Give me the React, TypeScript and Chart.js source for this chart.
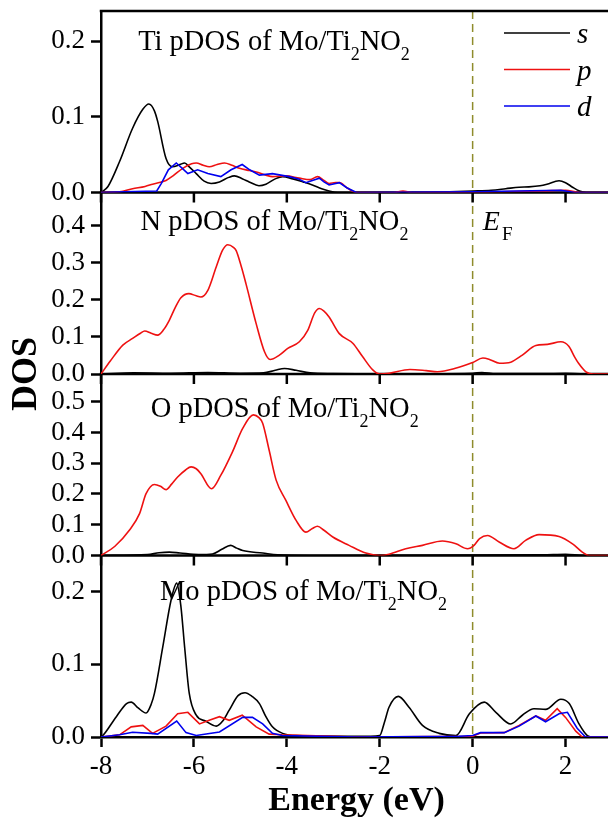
import { useEffect, useRef } from "react";
import { Chart, registerables } from "chart.js";

Chart.register(...registerables);

type Pt = [number, number];

// Energy axis (eV)
const energyMin = -8;
const energyMax = 3;
const energyStep = 2;

// Panel order, top to bottom
const panelAtoms = ["Ti", "N", "O", "Mo"];
const panelMax = [0.24, 0.49, 0.59, 0.25];
const dosStep = 0.1;

// Ti projected DOS
const tiS: Pt[] = [
  [-8, 0], [-7.85, 0.008], [-7.6, 0.041], [-7.32, 0.085], [-7.1, 0.11], [-6.97, 0.117], [-6.85, 0.108],
  [-6.78, 0.094], [-6.6, 0.045], [-6.46, 0.034], [-6.3, 0.037], [-6.2, 0.039], [-6.1, 0.034], [-5.95, 0.025],
  [-5.78, 0.015], [-5.63, 0.012], [-5.45, 0.014], [-5.25, 0.02], [-5.13, 0.022], [-4.95, 0.018], [-4.81, 0.014],
  [-4.6, 0.009], [-4.45, 0.011], [-4.25, 0.018], [-4.09, 0.021], [-3.87, 0.018], [-3.65, 0.014], [-3.45, 0.01],
  [-3.25, 0.005], [-3.09, 0.002], [-2.9, 0], [-1.0, 0], [-0.5, 0.001], [0, 0.002], [0.4, 0.003], [0.71, 0.005],
  [1.0, 0.007], [1.21, 0.0075], [1.45, 0.009], [1.6, 0.011], [1.86, 0.0155], [2.0, 0.013], [2.15, 0.007],
  [2.3, 0.002], [2.45, 0], [3, 0],
];
const tiP: Pt[] = [
  [-8, 0], [-7.6, 0.001], [-7.32, 0.005], [-7.05, 0.008], [-6.89, 0.011], [-6.6, 0.016], [-6.45, 0.022],
  [-6.24, 0.032], [-6.05, 0.038], [-5.95, 0.039], [-5.8, 0.036], [-5.67, 0.034], [-5.5, 0.037], [-5.34, 0.039],
  [-5.18, 0.036], [-5.02, 0.032], [-4.8, 0.029], [-4.66, 0.027], [-4.45, 0.023], [-4.31, 0.021], [-4.02, 0.022],
  [-3.73, 0.019], [-3.5, 0.017], [-3.34, 0.021], [-3.2, 0.016], [-3.09, 0.012], [-2.95, 0.013], [-2.87, 0.013],
  [-2.7, 0.006], [-2.5, 0], [-1.7, 0], [-1.5, 0.002], [-1.3, 0], [0.5, 0.001], [1.5, 0.002], [2.0, 0.003],
  [2.3, 0], [3, 0],
];
const tiD: Pt[] = [
  [-8, 0], [-7.5, 0.001], [-6.8, 0.002], [-6.7, 0.012], [-6.55, 0.03], [-6.38, 0.039], [-6.25, 0.032],
  [-6.13, 0.025], [-5.92, 0.03], [-5.7, 0.025], [-5.42, 0.021], [-5.2, 0.03], [-4.96, 0.037], [-4.8, 0.03],
  [-4.59, 0.023], [-4.31, 0.025], [-3.95, 0.021], [-3.75, 0.018], [-3.59, 0.013], [-3.45, 0.016], [-3.3, 0.019],
  [-3.2, 0.014], [-3.09, 0.01], [-2.87, 0.013], [-2.7, 0.006], [-2.5, 0], [0, 0.001], [1.9, 0.003], [2.2, 0],
  [3, 0],
];

// N projected DOS
const nS: Pt[] = [
  [-8, 0], [-7.3, 0.003], [-6.5, 0.002], [-5.7, 0.004], [-5.0, 0.002], [-4.5, 0.003], [-4.25, 0.01],
  [-4.05, 0.015], [-3.8, 0.01], [-3.5, 0.003], [-3.0, 0.001], [-2.0, 0], [0, 0.002], [0.2, 0.004], [0.5, 0.001],
  [1.5, 0.001], [2.0, 0.002], [2.4, 0], [3, 0],
];
const nP: Pt[] = [
  [-8, 0], [-7.8, 0.035], [-7.53, 0.078], [-7.32, 0.096], [-7.15, 0.11], [-7.06, 0.116], [-6.92, 0.11],
  [-6.78, 0.105], [-6.65, 0.12], [-6.53, 0.145], [-6.4, 0.18], [-6.28, 0.206], [-6.11, 0.217], [-5.95, 0.211],
  [-5.85, 0.208], [-5.7, 0.226], [-5.52, 0.289], [-5.38, 0.335], [-5.27, 0.349], [-5.15, 0.342], [-5.09, 0.333],
  [-4.98, 0.29], [-4.88, 0.244], [-4.66, 0.136], [-4.48, 0.06], [-4.36, 0.039], [-4.16, 0.051], [-3.98, 0.069],
  [-3.73, 0.087], [-3.55, 0.118], [-3.4, 0.165], [-3.3, 0.177], [-3.2, 0.17], [-3.09, 0.154], [-2.87, 0.109],
  [-2.58, 0.083], [-2.37, 0.047], [-2.15, 0.011], [-2.0, 0], [-1.8, 0.002], [-1.35, 0.012], [-1.0, 0.009],
  [-0.76, 0.006], [-0.35, 0.016], [0, 0.031], [0.22, 0.043], [0.35, 0.04], [0.58, 0.029], [0.82, 0.032],
  [1.07, 0.051], [1.36, 0.077], [1.61, 0.08], [1.9, 0.087], [2.07, 0.075], [2.2, 0.045], [2.28, 0.029],
  [2.44, 0.006], [2.6, 0], [3, 0],
];

// O projected DOS
const oS: Pt[] = [
  [-8, 0], [-7.0, 0.003], [-6.75, 0.009], [-6.53, 0.011], [-6.3, 0.008], [-5.9, 0.003], [-5.6, 0.005],
  [-5.4, 0.02], [-5.21, 0.033], [-5.08, 0.024], [-4.95, 0.016], [-4.52, 0.008], [-4.2, 0.002], [-3.5, 0],
  [1.5, 0.002], [2.0, 0.004], [2.4, 0], [3, 0],
];
const oP: Pt[] = [
  [-8, 0], [-7.7, 0.03], [-7.39, 0.082], [-7.17, 0.136], [-7.03, 0.201], [-6.85, 0.231], [-6.72, 0.225],
  [-6.6, 0.214], [-6.48, 0.232], [-6.35, 0.255], [-6.18, 0.278], [-6.06, 0.288], [-5.95, 0.282], [-5.85, 0.266],
  [-5.62, 0.217], [-5.42, 0.261], [-5.17, 0.337], [-4.95, 0.413], [-4.72, 0.457], [-4.6, 0.448], [-4.52, 0.43],
  [-4.38, 0.342], [-4.23, 0.245], [-4.02, 0.179], [-3.8, 0.114], [-3.59, 0.076], [-3.45, 0.088], [-3.34, 0.095],
  [-3.2, 0.082], [-3.01, 0.06], [-2.66, 0.033], [-2.3, 0.008], [-2.0, 0], [-1.8, 0.004], [-1.44, 0.022],
  [-1.08, 0.033], [-0.65, 0.047], [-0.36, 0.038], [-0.11, 0.022], [0.03, 0.033], [0.15, 0.055], [0.32, 0.065],
  [0.57, 0.044], [0.89, 0.022], [1.14, 0.049], [1.43, 0.068], [1.86, 0.062], [2.15, 0.038], [2.36, 0.011],
  [2.5, 0], [3, 0],
];

// Mo projected DOS
const moS: Pt[] = [
  [-8, 0], [-7.96, 0.002], [-7.67, 0.028], [-7.45, 0.046], [-7.35, 0.048], [-7.2, 0.04], [-7.03, 0.033],
  [-6.92, 0.045], [-6.85, 0.06], [-6.67, 0.124], [-6.49, 0.189], [-6.37, 0.212], [-6.28, 0.18], [-6.2, 0.124],
  [-6.1, 0.06], [-5.95, 0.03], [-5.75, 0.022], [-5.52, 0.015], [-5.38, 0.022], [-5.24, 0.037], [-5.05, 0.057],
  [-4.9, 0.061], [-4.75, 0.056], [-4.59, 0.046], [-4.45, 0.028], [-4.31, 0.014], [-4.09, 0.005], [-3.8, 0.002],
  [-2.2, 0.001], [-2.0, 0.002], [-1.9, 0.02], [-1.8, 0.041], [-1.6, 0.056], [-1.37, 0.041], [-1.08, 0.016],
  [-0.72, 0.005], [-0.36, 0.002], [-0.07, 0.032], [0.25, 0.048], [0.5, 0.034], [0.82, 0.018], [1.07, 0.03],
  [1.32, 0.039], [1.57, 0.038], [1.9, 0.052], [2.08, 0.046], [2.29, 0.018], [2.47, 0.002], [2.6, 0], [3, 0],
];
const moP: Pt[] = [
  [-8, 0], [-7.6, 0.003], [-7.35, 0.014], [-7.1, 0.016], [-6.89, 0.005], [-6.6, 0.015], [-6.35, 0.032],
  [-6.13, 0.034], [-5.88, 0.018], [-5.67, 0.023], [-5.45, 0.028], [-5.24, 0.023], [-4.96, 0.03], [-4.66, 0.014],
  [-4.38, 0.004], [-4.1, 0.003], [-3.0, 0.001], [-2.5, 0], [0, 0.001], [0.17, 0.0055], [0.68, 0.006],
  [1.0, 0.016], [1.36, 0.029], [1.57, 0.023], [1.82, 0.039], [2.0, 0.027], [2.22, 0.008], [2.36, 0], [3, 0],
];
const moD: Pt[] = [
  [-8, 0], [-7.6, 0.003], [-7.32, 0.0065], [-6.93, 0.005], [-6.78, 0.004], [-6.37, 0.022], [-6.17, 0.006],
  [-5.95, 0.002], [-5.45, 0.007], [-4.95, 0.027], [-4.74, 0.027], [-4.52, 0.018], [-4.31, 0.005], [-4.1, 0.002],
  [-2.5, 0], [-0.3, 0.001], [0, 0.002], [0.17, 0.006], [0.68, 0.006], [1.0, 0.015], [1.36, 0.029], [1.57, 0.021],
  [1.86, 0.032], [2.04, 0.034], [2.25, 0.012], [2.43, 0], [3, 0],
];

const orbitals = ["s", "p", "d"];

const SERIF = "'Liberation Serif', 'Times New Roman', 'DejaVu Serif', serif";
const COLORS: Record<string, string> = { s: "#000000", p: "#ee1111", d: "#0000ee" };
const AXIS_W = 2.5;
const TICK_LEN = 10;
const SCALE_IDS = ["yTi", "yN", "yO", "yMo"];

// Panel caption anchors (energy, DOS value of the text baseline)
const captionAt: Pt[] = [[-7.2, 0.189], [-7.15, 0.389], [-6.93, 0.451], [-6.73, 0.189]];

function series(label: string, pts: Pt[], axis: string, smooth: boolean) {
  return {
    label,
    data: pts.map(([x, y]) => ({ x, y })),
    yAxisID: axis,
    borderColor: COLORS[label],
    backgroundColor: COLORS[label],
    borderWidth: 1.6,
    pointRadius: 0,
    fill: false,
    tension: 0,
    cubicInterpolationMode: smooth ? ("monotone" as const) : ("default" as const),
    order: label === "d" ? 0 : label === "p" ? 1 : 2,
  };
}

function yScale(i: number) {
  return {
    type: "linear" as const,
    position: "left" as const,
    stack: "dos",
    stackWeight: 1,
    weight: 10 - i,
    min: 0,
    max: panelMax[i],
    afterFit: (s: any) => {
      s.width = 101;
      s.paddingTop = 0;
      s.paddingBottom = 0;
    },
    border: { display: true, color: "#000", width: AXIS_W },
    grid: {
      display: true,
      drawOnChartArea: false,
      drawTicks: true,
      tickLength: TICK_LEN,
      tickWidth: AXIS_W,
      tickColor: "#000",
    },
    ticks: {
      stepSize: dosStep,
      includeBounds: false,
      autoSkip: false,
      padding: 6,
      color: "#000",
      font: { family: SERIF, size: 27 },
      callback: (v: any) => Number(v).toFixed(1),
    },
  };
}

function drawRich(ctx: CanvasRenderingContext2D, x: number, y: number, parts: { t: string; sub?: boolean }[], size: number) {
  let cx = x;
  ctx.textAlign = "left";
  ctx.textBaseline = "alphabetic";
  for (const p of parts) {
    ctx.font = p.sub ? `${Math.round(size * 0.62)}px ${SERIF}` : `${size}px ${SERIF}`;
    ctx.fillText(p.t, cx, p.sub ? y + 10 : y);
    cx += ctx.measureText(p.t).width;
  }
}

const panelFrame = {
  id: "panelFrame",
  beforeDatasetsDraw(chart: any) {
    const { ctx, chartArea, scales } = chart;
    const xs = scales.x;
    ctx.save();
    // Fermi level
    const xf = xs.getPixelForValue(0);
    ctx.strokeStyle = "#8f8c2c";
    ctx.lineWidth = 1.5;
    ctx.setLineDash([8, 5]);
    ctx.beginPath();
    ctx.moveTo(xf, chartArea.top);
    ctx.lineTo(xf, chartArea.bottom);
    ctx.stroke();
    ctx.setLineDash([]);

    ctx.strokeStyle = "#000";
    ctx.lineWidth = AXIS_W;
    ctx.beginPath();
    ctx.moveTo(chartArea.left - AXIS_W / 2, chartArea.top);
    ctx.lineTo(chartArea.right, chartArea.top);
    ctx.moveTo(chartArea.right, chartArea.top);
    ctx.lineTo(chartArea.right, chartArea.bottom);
    ctx.stroke();
    // separators between panels, with outward energy ticks
    for (const id of SCALE_IDS.slice(0, 3)) {
      const yb = scales[id].bottom;
      ctx.beginPath();
      ctx.moveTo(chartArea.left - AXIS_W / 2, yb);
      ctx.lineTo(chartArea.right, yb);
      for (const t of xs.ticks) {
        const px = xs.getPixelForValue(t.value);
        ctx.moveTo(px, yb);
        ctx.lineTo(px, yb + TICK_LEN);
      }
      ctx.stroke();
    }
    ctx.restore();
  },
  afterDraw(chart: any) {
    const { ctx, chartArea, scales } = chart;
    const xs = scales.x;
    ctx.save();
    ctx.fillStyle = "#000";
    // panel captions
    SCALE_IDS.forEach((id, i) => {
      const [ex, ev] = captionAt[i];
      drawRich(
        ctx,
        xs.getPixelForValue(ex),
        scales[id].getPixelForValue(ev),
        [{ t: `${panelAtoms[i]} pDOS of Mo/Ti` }, { t: "2", sub: true }, { t: "NO" }, { t: "2", sub: true }],
        28.5
      );
    });
    // Fermi level label
    const ys = scales.yN;
    const ex = xs.getPixelForValue(0.22);
    const ey = ys.getPixelForValue(0.389);
    ctx.font = `italic 28px ${SERIF}`;
    ctx.textAlign = "left";
    ctx.textBaseline = "alphabetic";
    ctx.fillText("E", ex, ey);
    const ew = ctx.measureText("E").width;
    ctx.font = `19px ${SERIF}`;
    ctx.fillText("F", ex + ew + 2, ey + 10);

    // orbital legend in the top panel
    const lx0 = chartArea.right - 108;
    const lx1 = chartArea.right - 42;
    orbitals.forEach((o, k) => {
      const ly = chartArea.top + 22 + k * 36.5;
      ctx.strokeStyle = COLORS[o];
      ctx.lineWidth = 1.6;
      ctx.beginPath();
      ctx.moveTo(lx0, ly);
      ctx.lineTo(lx1, ly);
      ctx.stroke();
      ctx.font = `italic 29px ${SERIF}`;
      ctx.fillText(o, lx1 + 7, ly + 10);
    });

    // vertical axis title
    ctx.font = `bold 36px ${SERIF}`;
    ctx.textAlign = "center";
    ctx.textBaseline = "middle";
    ctx.translate(27, (chartArea.top + chartArea.bottom) / 2);
    ctx.rotate(-Math.PI / 2);
    ctx.fillText("DOS", 0, 0);
    ctx.restore();
  },
};

export default function App() {
  const ref = useRef<HTMLCanvasElement>(null);

  useEffect(() => {
    const canvas = ref.current;
    if (!canvas) return;
    const datasets = [
      series("s", tiS, "yTi", true),
      series("p", tiP, "yTi", true),
      series("d", tiD, "yTi", false),
      series("s", nS, "yN", true),
      series("p", nP, "yN", true),
      series("s", oS, "yO", true),
      series("p", oP, "yO", true),
      series("s", moS, "yMo", true),
      series("p", moP, "yMo", false),
      series("d", moD, "yMo", false),
    ];
    const scales: any = {
      x: {
        type: "linear",
        position: "bottom",
        min: energyMin,
        max: energyMax,
        afterFit: (s: any) => {
          s.height = 86;
          s.paddingLeft = 0;
          s.paddingRight = 0;
        },
        border: { display: true, color: "#000", width: AXIS_W },
        grid: {
          display: true,
          drawOnChartArea: false,
          drawTicks: true,
          tickLength: TICK_LEN,
          tickWidth: AXIS_W,
          tickColor: "#000",
        },
        ticks: {
          stepSize: energyStep,
          includeBounds: false,
          autoSkip: false,
          maxRotation: 0,
          padding: 4,
          color: "#000",
          font: { family: SERIF, size: 27 },
        },
        title: {
          display: true,
          text: "Energy (eV)",
          color: "#000",
          font: { family: SERIF, size: 34, weight: "bold" },
          padding: { top: 0, bottom: 1 },
        },
      },
    };
    SCALE_IDS.forEach((id, i) => {
      scales[id] = yScale(i);
    });

    const chart = new Chart(canvas, {
      type: "line",
      data: { datasets: datasets as any },
      options: {
        animation: false,
        responsive: false,
        maintainAspectRatio: false,
        devicePixelRatio: 1,
        layout: { padding: { top: 11, right: 8, bottom: 0, left: 0 } },
        plugins: { legend: { display: false }, tooltip: { enabled: false } },
        scales,
      },
      plugins: [panelFrame],
    });
    return () => chart.destroy();
  }, []);

  return (
    <div
      style={{
        position: "fixed",
        left: 0,
        top: 0,
        width: 608,
        height: 823,
        overflow: "hidden",
        background: "#fff",
      }}
    >
      <canvas ref={ref} width={620} height={823} style={{ display: "block", width: 620, height: 823 }} />
    </div>
  );
}
